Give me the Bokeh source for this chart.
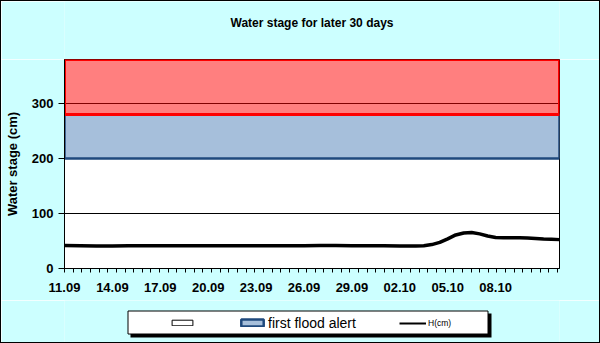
from bokeh.plotting import figure
from bokeh.layouts import column
from bokeh.models import (ColumnDataSource, FixedTicker, Legend, LegendItem, Range1d, Label)
from bokeh.core.properties import value
from bokeh.embed import file_html
from bokeh.resources import INLINE

# ---- data (days after 11.09, water stage in cm) ----
day = [0, 1, 2, 3, 4, 5, 6, 7, 8, 9, 10, 11, 12, 13, 14, 15, 16, 17, 18, 19, 20, 21, 22,
       22.5, 23, 23.5, 24, 24.5, 25, 25.5, 26, 26.5, 27, 27.5, 28, 28.5, 29, 29.5, 30, 30.5, 31]
stage_cm = [42, 41.5, 41, 41, 41.5, 41.5, 41.5, 41.5, 41.5, 41.5, 41.5, 41.5, 41.5, 41.5, 41.5, 41.5, 42, 42, 41.5, 41.5, 41.5, 41, 41,
            41.5, 43.5, 47.5, 54, 61, 64.5, 65.5, 63, 59, 56.5, 56, 56, 56, 55.5, 54.5, 53.5, 53, 52.5]

tick_days = [0, 3, 6, 9, 12, 15, 18, 21, 24, 27]
tick_labels = ["11.09", "14.09", "17.09", "20.09", "23.09", "26.09", "29.09", "02.10", "05.10", "08.10"]
y_ticks = [0, 100, 200, 300]

band_bottoms = [0, 200, 280]
band_tops = [200, 280, 380]
period_days = 31

TITLE = "Water stage for later 30 days"
FONT = "Liberation Sans"
BG = "#CCFFFF"

base_style = dict(fill_color="white", fill_alpha=0, line_color="black", line_width=1)
alert_style = dict(fill_color="#A6BFDB", line_color="#1F497D", line_width=2.5)
upper_style = dict(fill_color="red", fill_alpha=0.5, line_color="red", line_width=3)
line_style = dict(line_color="black", line_width=3.5)

def strip(height, y_top, y_bottom):
    s = figure(width=598, height=height, output_backend="svg", toolbar_location=None,
               x_range=Range1d(64, 559), y_range=Range1d(y_bottom, y_top),
               x_axis_location=None, y_axis_location=None, min_border=0)
    s.border_fill_color = BG
    s.background_fill_color = BG
    s.outline_line_color = None
    s.xgrid.visible = False
    s.ygrid.visible = False
    return s

# ---- title strip (coordinates = page pixels) ----
t = strip(58, 1, 59)
t.add_layout(Label(x=311.5, y=22, text=TITLE, text_align="center", text_baseline="middle",
                   text_font=FONT, text_font_size="12px", text_font_style="bold", text_color="black"))

# ---- main chart ----
p = figure(width=598, height=241, output_backend="svg", toolbar_location=None,
           x_range=(0, period_days), y_range=(0, 380),
           min_border_left=63, min_border_right=40, min_border_top=0, min_border_bottom=32)
p.title.text = ""
p.border_fill_color = BG
p.background_fill_color = "white"
p.outline_line_color = "black"
p.outline_line_width = 1

def band(i):
    return ColumnDataSource(dict(left=[0], right=[period_days], bottom=[band_bottoms[i]], top=[band_tops[i]]))

p.quad(left="left", right="right", bottom="bottom", top="top", source=band(0), **base_style)
p.quad(left="left", right="right", bottom="bottom", top="top", source=band(1), **alert_style)
p.quad(left="left", right="right", bottom="bottom", top="top", source=band(2), **upper_style)
p.line(day, stage_cm, **line_style)

# grid
p.xgrid.visible = False
p.ygrid.ticker = FixedTicker(ticks=y_ticks)
p.ygrid.grid_line_color = "black"
p.ygrid.grid_line_width = 1

# axes
p.yaxis.ticker = FixedTicker(ticks=y_ticks)
p.yaxis.major_tick_out = 6
p.yaxis.major_tick_in = 0
p.yaxis.minor_tick_out = 0
p.yaxis.minor_tick_in = 0
p.yaxis.axis_label = "Water stage (cm)"
p.yaxis.axis_label_text_font = FONT
p.yaxis.axis_label_text_font_size = "13px"
p.yaxis.axis_label_text_font_style = "bold"
p.yaxis.axis_label_standoff = 9
p.yaxis.major_label_standoff = 5

p.xaxis.ticker = FixedTicker(ticks=tick_days, minor_ticks=[k * 13 / 24 for k in range(58)])
p.xaxis.major_label_overrides = {d: l for d, l in zip(tick_days, tick_labels)}
p.xaxis.major_tick_out = 0
p.xaxis.major_tick_in = 0
p.xaxis.minor_tick_out = 4
p.xaxis.minor_tick_in = 0
p.xaxis.major_label_standoff = 10

for ax in (p.xaxis, p.yaxis):
    ax.axis_line_color = "black"
    ax.major_tick_line_color = "black"
    ax.minor_tick_line_color = "black"
    ax.major_label_text_font = FONT
    ax.major_label_text_font_size = "13px"
    ax.major_label_text_font_style = "bold"
    ax.major_label_text_color = "black"
    ax.axis_label_text_color = "black"

# ---- legend strip (coordinates = page pixels) ----
q = strip(42, 300, 342)

# legend frame with drop shadow (decoration)
q.quad(left=[130], right=[491], top=[313], bottom=[337], fill_color="black", line_color=None)
q.quad(left=[127.5], right=[487.5], top=[310.5], bottom=[333.5], fill_color="white", line_color="black", line_width=1)

# off-screen proxies that carry the legend glyph styles
g_base = q.quad(left=[0], right=[1], top=[0], bottom=[1], **base_style)
g_alert = q.quad(left=[0], right=[1], top=[0], bottom=[1], **alert_style)
g_line = q.line(x=[0, 1], y=[0, 0], line_color="black", line_width=2)

def make_legend(item, loc, size, gw, gh, lh):
    lg = Legend(items=[item], location=loc, orientation="horizontal",
                padding=0, margin=0, spacing=0, border_line_alpha=0, background_fill_alpha=0,
                glyph_width=gw, glyph_height=gh, label_standoff=2, label_height=lh, label_width=0,
                label_text_font=FONT, label_text_font_size=size, label_text_color="black")
    q.add_layout(lg)
    return lg

make_legend(LegendItem(label=value(" "), renderers=[g_base]), (105, 11.2), "14px", 26, 7, 16)
make_legend(LegendItem(label=value("first flood alert"), renderers=[g_alert]), (174, 11.2), "14px", 28, 9, 16)
make_legend(LegendItem(label=value("H(cm)"), renderers=[g_line]), (335, 14), "8.5px", 27, 8, 10)

layout = column(t, p, q, spacing=0, styles={"margin": "1px", "box-shadow": "0 0 0 1px black"})

open("out.html", "w").write(file_html(layout, INLINE))
